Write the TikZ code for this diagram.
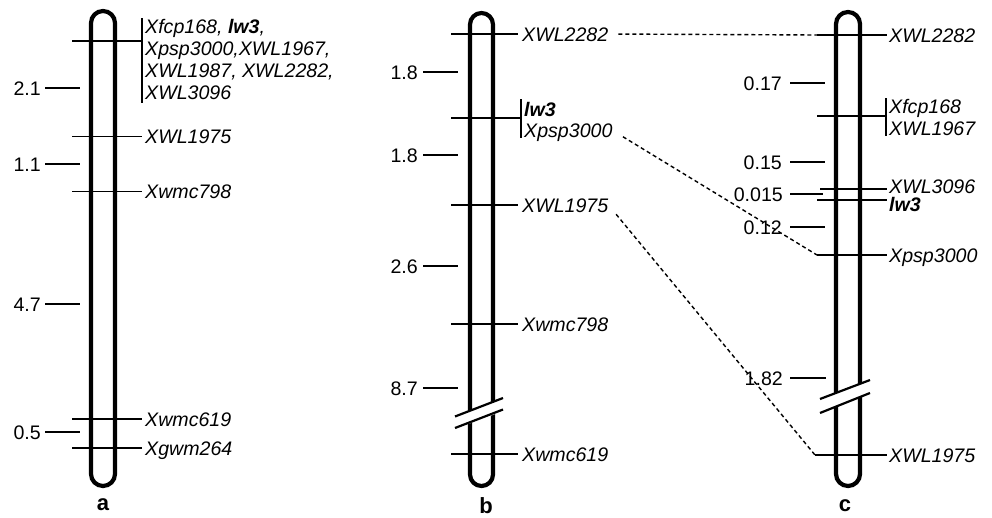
\documentclass[tikz,border=0pt]{standalone}
\usepackage{fontspec}
\setmainfont{Liberation Sans}
\begin{document}
\begin{tikzpicture}[x=1pt,y=-1pt,
  chrom/.style={line width=4.2pt},
  marker/.style={line width=1.5pt},
  tickline/.style={line width=1.6pt},
  dashline/.style={dash pattern=on 4pt off 3pt,line width=1.4pt},
  slash/.style={line width=2.2pt},
  mlabel/.style={font=\fontsize{19.6}{22}\selectfont\itshape,anchor=west,inner sep=0pt,text height=14pt,text depth=0pt},
  num/.style={font=\fontsize{19.6}{22}\selectfont,anchor=east,inner sep=0pt,text height=14pt,text depth=0pt},
  plabel/.style={font=\fontsize{22}{26}\selectfont\bfseries,anchor=base,inner sep=0pt}]
\useasboundingbox (0,0) rectangle (992,517);

% ---------- panel a ----------
\draw[chrom,rounded corners=12pt] (91,11) rectangle (115,486);
\draw[marker] (72,41) -- (142,41);
\draw[marker] (142,18) -- (142,103);
\node[mlabel] (a1) at (145,26) {Xfcp168, \textbf{lw3},};
\node[mlabel] (a2) at (145,48) {Xpsp3000,XWL1967,};
\node[mlabel] (a3) at (145,70) {XWL1987, XWL2282,};
\node[mlabel] (a4) at (145,92) {XWL3096};
\draw[marker] (72,136.5) -- (142,136.5);
\node[mlabel] (a5) at (145,136.5) {XWL1975};
\draw[marker] (72,191.5) -- (142,191.5);
\node[mlabel] (a6) at (145,191.5) {Xwmc798};
\draw[marker] (72,419) -- (142,419);
\node[mlabel] (a7) at (145,419) {Xwmc619};
\draw[marker] (72,448) -- (142,448);
\node[mlabel] (a8) at (145,448) {Xgwm264};
\draw[tickline] (45,88) -- (80,88);  \node[num] (an1) at (41,88) {2.1};
\draw[tickline] (45,164) -- (80,164); \node[num] (an2) at (41,164) {1.1};
\draw[tickline] (45,304) -- (80,304); \node[num] (an3) at (41,304) {4.7};
\draw[tickline] (45,432) -- (80,432); \node[num] (an4) at (41,432) {0.5};
\node[plabel] (la) at (103,510) {a};

% ---------- panel b ----------
\draw[chrom,rounded corners=11.5pt] (470,13) rectangle (493,486);
\fill[white] (452,418) -- (506,397) -- (506,410) -- (452,430) -- cycle;
\draw[slash] (455,416.5) -- (503,398);
\draw[slash] (455,428) -- (503,409.5);
\draw[marker] (451,34) -- (518,34);
\node[mlabel] (b1) at (522,34) {XWL2282};
\draw[marker] (451,118) -- (521,118);
\draw[marker] (521,99) -- (521,138);
\node[mlabel] (b2) at (524,109) {\textbf{lw3}};
\node[mlabel] (b3) at (524,130.5) {Xpsp3000};
\draw[marker] (451,205) -- (518,205);
\node[mlabel] (b4) at (522,205) {XWL1975};
\draw[marker] (451,324) -- (518,324);
\node[mlabel] (b5) at (522,324) {Xwmc798};
\draw[marker] (451,454) -- (518,454);
\node[mlabel] (b6) at (522,454) {Xwmc619};
\draw[tickline] (423,72) -- (458,72);   \node[num] (bn1) at (418,72) {1.8};
\draw[tickline] (423,155) -- (458,155); \node[num] (bn2) at (418,155) {1.8};
\draw[tickline] (423,266) -- (458,266); \node[num] (bn3) at (418,266) {2.6};
\draw[tickline] (423,388) -- (458,388); \node[num] (bn4) at (418,388) {8.7};
\node[plabel] (lb) at (486,513) {b};

% ---------- panel c ----------
\draw[chrom,rounded corners=12pt] (836,12) rectangle (860,486);
\fill[white] (817,400) -- (873,379) -- (873,392) -- (817,414) -- cycle;
\draw[slash] (820,399) -- (870,380);
\draw[slash] (820,413) -- (870,393);
\coordinate (c1L) at (817,35);
\draw[marker] (c1L) -- (887,35);
\node[mlabel] (c1) at (889,35) {XWL2282};
\draw[marker] (817,116) -- (886,116);
\draw[marker] (886,98) -- (886,136);
\node[mlabel] (c2) at (889,106) {Xfcp168};
\node[mlabel] (c3) at (889,128) {XWL1967};
\draw[marker] (820,189) -- (887,189);
\node[mlabel] (c4) at (889,186) {XWL3096};
\draw[marker] (817,200) -- (887,200);
\node[mlabel] (c5) at (889,204) {\textbf{lw3}};
\coordinate (c6L) at (817,255);
\draw[marker] (c6L) -- (887,255);
\node[mlabel] (c6) at (889,255) {Xpsp3000};
\coordinate (c7L) at (815,455);
\draw[marker] (c7L) -- (887,455);
\node[mlabel] (c7) at (889,455) {XWL1975};
\draw[tickline] (790,83) -- (825,83);   \node[num] (cn1) at (782,83) {0.17};
\draw[tickline] (790,162) -- (825,162); \node[num] (cn2) at (782,162) {0.15};
\draw[tickline] (790,194) -- (823,194); \node[num] (cn3) at (783,194) {0.015};
\draw[tickline] (790,227) -- (825,227); \node[num] (cn4) at (782,227) {0.12};
\draw[tickline] (790,378) -- (826,378); \node[num] (cn5) at (783,378) {1.82};
\node[plabel] (lc) at (845,511) {c};

% ---------- connectors ----------
\draw[dashline,shorten <=10pt] (b1.east) -- (c1L);
\draw[dashline,shorten <=12pt] (b3.east) -- (c6L);
\draw[dashline,shorten <=12pt] (b4.east) -- (c7L);
\end{tikzpicture}
\end{document}
